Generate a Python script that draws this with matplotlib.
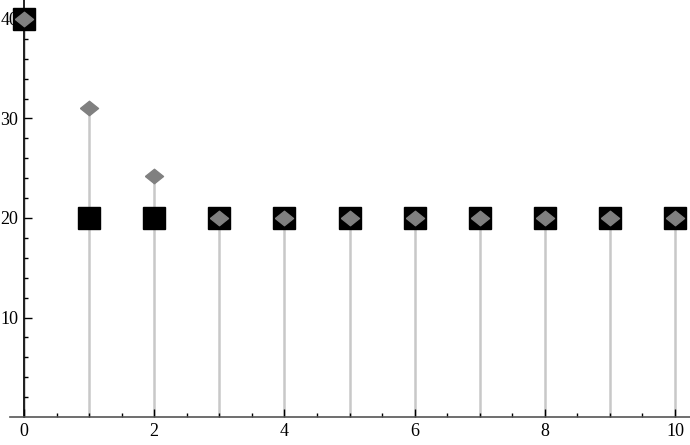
import numpy as np
import matplotlib.pyplot as plt
from matplotlib.ticker import MultipleLocator, FixedLocator

# values
x_vals = [0, 1, 2, 3, 4, 5, 6, 7, 8, 9, 10]
squares = [40, 20, 20, 20, 20, 20, 20, 20, 20, 20, 20]
diamonds = [40, 31, 24.2, 20, 20, 20, 20, 20, 20, 20, 20]
x_ticks = [0, 2, 4, 6, 8, 10]
y_ticks = [10, 20, 30, 40]

plt.rcParams['font.family'] = ['Liberation Serif', 'DejaVu Serif']

fig = plt.figure(figsize=(6.9, 4.45), dpi=100)
ax = fig.add_axes([0, 0, 1, 1])
ax.set_xlim(-0.369, 10.23)
ax.set_ylim(-2.81, 41.9)

# stems
tops = np.maximum(squares, diamonds)
ax.vlines(x_vals, 0, tops, color='#c8c8c8', lw=1.8, zorder=1)

ax.plot(x_vals, squares, ls='none', marker='s', ms=15.5, color='black',
        zorder=3, clip_on=False)
diamond = [(-1, 0), (0, 0.8), (1, 0), (0, -0.8), (-1, 0)]
ax.plot(x_vals, diamonds, ls='none', marker=diamond, ms=13, color='#808080',
        mec='#808080', zorder=4, clip_on=False)

ax.spines['top'].set_visible(False)
ax.spines['right'].set_visible(False)
ax.spines['left'].set_position(('data', 0))
ax.spines['bottom'].set_position(('data', 0))
ax.spines['left'].set_bounds(0, 41.9)
ax.spines['bottom'].set_bounds(-0.215, 10.23)
ax.spines['bottom'].set_color('#555555')
ax.spines['left'].set_color('black')
ax.spines['left'].set_linewidth(1.2)
ax.spines['bottom'].set_linewidth(1.2)

ax.set_xticks(x_ticks)
ax.set_yticks(y_ticks)
ax.xaxis.set_minor_locator(MultipleLocator(0.5))
ax.yaxis.set_minor_locator(FixedLocator(np.arange(2, 42, 2)))
ax.tick_params(axis='both', which='major', direction='in', length=6,
               width=1, labelsize=13, colors='black')
ax.tick_params(axis='both', which='minor', direction='in', length=3, width=1)
ax.tick_params(axis='y', which='both', pad=4)
ax.tick_params(axis='x', which='both', pad=4)

fig.savefig('out.png', dpi=100)
